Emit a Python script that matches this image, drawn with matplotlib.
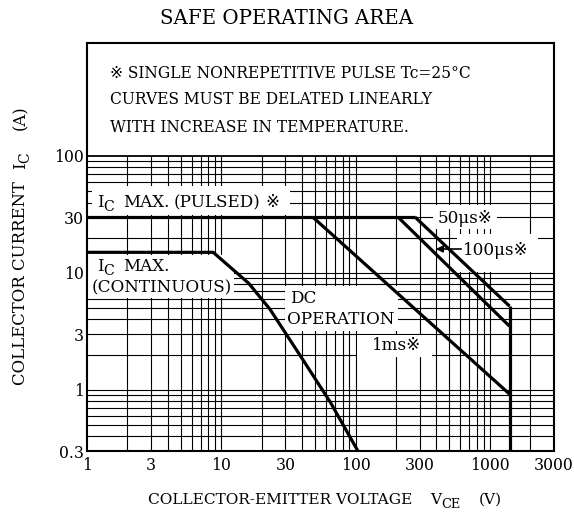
import matplotlib
matplotlib.use("Agg")
import matplotlib.pyplot as plt
from matplotlib.patches import Rectangle

plt.rcParams['font.family'] = ['DejaVu Serif', 'DejaVu Sans', 'Noto Sans CJK JP']

# ---------------- data ----------------
x_ticks = [1, 3, 10, 30, 100, 300, 1000, 3000]
x_tick_labels = ["1", "3", "10", "30", "100", "300", "1000", "3000"]
y_ticks = [0.3, 1, 3, 10, 30, 100]
y_tick_labels = ["0.3", "1", "3", "10", "30", "100"]

pulsed_v = [1, 277]
pulsed_i = [30, 30]
us50_v = [277, 1400]
us50_i = [30, 5.2]
us100_v = [207, 1400]
us100_i = [30, 3.5]
ms1_v = [48, 1400]
ms1_i = [30, 0.92]
dc_v = [1, 8.7, 16, 23, 40, 65, 104]
dc_i = [15, 15, 8.15, 4.9, 1.85, 0.78, 0.3]
vmax_v = [1400, 1400]
vmax_i = [5.2, 0.3]

grid_x = [2, 3, 4, 5, 6, 7, 8, 9, 10, 20, 30, 40, 50, 60, 70, 80, 90, 100,
          200, 300, 400, 500, 600, 700, 800, 900, 1000, 2000]
grid_y = [0.4, 0.5, 0.6, 0.7, 0.8, 0.9, 1, 2, 3, 4, 5, 6, 7, 8, 9, 10,
          20, 30, 40, 50, 60, 70, 80, 90]

W, H = 574, 519
fig = plt.figure(figsize=(W / 100, H / 100), dpi=100)


def P(x, y):
    return x / W, 1 - y / H


ax = fig.add_axes([87 / W, 68 / H, 467 / W, 408 / H])
ax.set_xscale('log')
ax.set_yscale('log')
ax.set_xlim(1, 3000)
ax.set_ylim(0.3, 925)

# grid
ax.vlines(grid_x, 0.3, 100, colors='black', lw=0.8, zorder=1)
ax.hlines(grid_y, 1, 3000, colors='black', lw=0.8, zorder=1)
ax.hlines([100], 1, 3000, colors='black', lw=1.3, zorder=1)

lw = 2.3
for v, i in [(pulsed_v, pulsed_i), (us50_v, us50_i), (us100_v, us100_i),
             (ms1_v, ms1_i), (dc_v, dc_i), (vmax_v, vmax_i)]:
    ax.plot(v, i, color='black', lw=lw, solid_capstyle='butt', zorder=5)

ax.set_xticks(x_ticks)
ax.set_xticklabels(x_tick_labels)
ax.set_yticks(y_ticks)
ax.set_yticklabels(y_tick_labels)
ax.minorticks_off()
ax.tick_params(length=0, labelsize=11.3, pad=4)
ax.tick_params(axis='y', pad=2)
for s in ax.spines.values():
    s.set_linewidth(1.5)
    s.set_zorder(6)


# white patches behind labels (hide grid)
def white(x0, y0, x1, y1):
    fx0, fy0 = P(x0, y1)
    fx1, fy1 = P(x1, y0)
    ax.add_patch(Rectangle((fx0, fy0), fx1 - fx0, fy1 - fy0,
                           transform=fig.transFigure, facecolor='white',
                           edgecolor='none', zorder=2, clip_on=False))


white(92, 186, 290, 215)
white(88, 255, 234, 298)
white(285, 286, 398, 331)
white(357, 335, 432, 357)
white(433, 205, 497, 229)
white(457, 234, 538, 272)

renderer = fig.canvas.get_renderer()


def seq(parts, x, y, rot=0):
    """Draw a sequence of text pieces; (x, y) = start of baseline in pixels."""
    pos = x if rot == 0 else y
    for p in parts:
        if isinstance(p, (int, float)):
            pos += p if rot == 0 else -p
            continue
        s, size, drop = p
        t = fig.text(0, 0, s, fontsize=size, rotation=rot, rotation_mode='anchor',
                     ha='left', va='baseline', zorder=6, color='black')
        bb = t.get_window_extent(renderer)
        if rot == 0:
            t.set_position(P(pos, y + drop))
            pos += bb.width
        else:
            t.set_position(P(x + drop, pos))
            pos -= bb.height


fs = 12.1
sub = 10.2
seq([("I", fs, 0), ("C", sub, 4), 9, ("MAX.", fs, 0), 4, ("(PULSED)", fs, 0), 5,
     ("※", fs, 0)], 97, 207)
seq([("I", fs, 0), ("C", sub, 4), 9, ("MAX.", fs, 0)], 97, 271)
seq([("(CONTINUOUS)", fs, 0)], 92, 292)
seq([("DC", fs, 0)], 290, 303)
seq([("OPERATION", fs, 0)], 287, 324)
seq([("1ms※", fs, 0)], 372, 350)
seq([("50μs※", fs, 0)], 438, 223)
seq([("100μs※", fs, 0)], 463, 255)
ax.annotate("", xy=P(433, 249), xycoords='figure fraction',
            xytext=P(464, 249), textcoords='figure fraction',
            arrowprops=dict(arrowstyle='-|>', color='black', lw=1.2,
                            mutation_scale=10), zorder=6)

# top note
kw = dict(fontsize=11.2, zorder=6, color='black')
fig.text(*P(110, 73), "※ SINGLE NONREPETITIVE PULSE Tc=25°C", ha='left', va='center', **kw)
fig.text(*P(110, 100), "CURVES MUST BE DELATED LINEARLY", ha='left', va='center', **kw)
fig.text(*P(110, 127), "WITH INCREASE IN TEMPERATURE.", ha='left', va='center', **kw)

fig.text(*P(287, 18), "SAFE OPERATING AREA", ha='center', va='center', fontsize=14.2)

# axis titles
seq([("COLLECTOR-EMITTER VOLTAGE", 11.1, 0), 18, ("V", 11.1, 0), ("CE", 9.3, 4), 18,
     ("(V)", 11.1, 0)], 148, 504)
seq([("COLLECTOR CURRENT", 11.9, 0), 12, ("I", 11.9, 0), ("C", 10, 4), 22,
     ("(A)", 11.9, 0)], 25, 385, rot=90)

fig.savefig("out.png", dpi=100)
